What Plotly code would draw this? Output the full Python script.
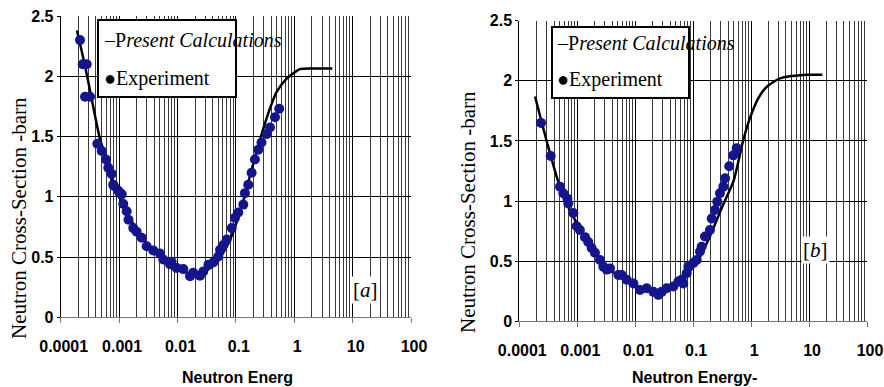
import plotly.graph_objects as go

# ---------------- data ----------------
# Panel a
calc_a_E = [1.9e-4, 2.6e-4, 3.4e-4, 4.7e-4, 6.3e-4, 7.9e-4, 1.26e-3, 2.0e-3, 3.2e-3, 5.0e-3,
            7.9e-3, 0.0126, 0.02, 0.032, 0.05, 0.079, 0.126, 0.2, 0.32, 0.5, 0.74, 1.0, 1.26, 2.0, 4.5]
calc_a_S = [2.38, 2.09, 1.81, 1.48, 1.28, 1.12, 0.90, 0.73, 0.59, 0.50,
            0.43, 0.38, 0.355, 0.39, 0.47, 0.64, 0.92, 1.28, 1.62, 1.87, 1.98, 2.03, 2.06, 2.065, 2.065]
exp_a_E = [2.14e-4, 2.38e-4, 2.79e-4, 2.61e-4, 3.18e-4, 4.24e-4, 5.04e-4, 5.97e-4, 6.53e-4, 7.46e-4,
           7.94e-4, 8.18e-4, 9.68e-4, 1.035e-3, 1.11e-3, 1.18e-3, 1.35e-3, 1.45e-3, 1.75e-3, 2.0e-3,
           2.44e-3, 2.97e-3, 3.85e-3, 5.0e-3, 5.71e-3, 7.45e-3, 7.94e-3, 9.68e-3, 0.0126, 0.0164,
           0.0186, 0.0243, 0.0277, 0.0339, 0.041, 0.050, 0.0537, 0.061, 0.0697, 0.0851,
           0.0966, 0.11, 0.134, 0.143, 0.163, 0.186, 0.212, 0.242, 0.275, 0.336,
           0.384, 0.468, 0.553]
exp_a_S = [2.30, 2.10, 2.10, 1.83, 1.83, 1.44, 1.38, 1.31, 1.24, 1.19,
           1.10, 1.09, 1.05, 1.03, 1.02, 0.94, 0.88, 0.81, 0.74, 0.71,
           0.66, 0.59, 0.555, 0.53, 0.48, 0.44, 0.46, 0.41, 0.40, 0.34,
           0.37, 0.345, 0.38, 0.435, 0.455, 0.505, 0.56, 0.60, 0.645, 0.74,
           0.825, 0.87, 0.935, 1.03, 1.10, 1.20, 1.31, 1.39, 1.45, 1.52,
           1.575, 1.66, 1.73]

# Panel b
calc_b_E = [1.87e-4, 3.16e-4, 5.0e-4, 7.9e-4, 1.26e-3, 2.0e-3, 3.16e-3, 5.0e-3, 7.9e-3, 0.0126,
            0.02, 0.0316, 0.05, 0.079, 0.126, 0.2, 0.316, 0.5, 0.735, 0.955, 1.35, 1.86, 3.16, 9.1, 17.0]
calc_b_S = [1.87, 1.45, 1.12, 0.90, 0.73, 0.58, 0.46, 0.38, 0.32, 0.28,
            0.25, 0.26, 0.30, 0.39, 0.52, 0.72, 0.95, 1.17, 1.51, 1.69, 1.86, 1.95, 2.02, 2.05, 2.05]
exp_b_E = [2.37e-4, 3.48e-4, 5.04e-4, 5.75e-4, 6.76e-4, 7.0e-4, 8.55e-4, 9.77e-4, 1.11e-3, 1.36e-3,
           1.55e-3, 1.77e-3, 2.02e-3, 2.47e-3, 2.82e-3, 3.22e-3, 3.67e-3, 5.13e-3, 5.83e-3, 7.13e-3,
           9.29e-3, 0.0121, 0.0158, 0.0206, 0.0251, 0.0286, 0.0349, 0.0455, 0.0555, 0.0634,
           0.0676, 0.0773, 0.0826, 0.1007, 0.115, 0.131, 0.14, 0.16, 0.195, 0.209,
           0.238, 0.261, 0.29, 0.332, 0.355, 0.42, 0.493, 0.564]
exp_b_S = [1.65, 1.375, 1.12, 1.065, 1.02, 0.98, 0.90, 0.79, 0.76, 0.70,
           0.66, 0.61, 0.57, 0.51, 0.455, 0.43, 0.44, 0.385, 0.385, 0.345,
           0.315, 0.26, 0.275, 0.245, 0.22, 0.245, 0.275, 0.29, 0.33, 0.345,
           0.315, 0.40, 0.455, 0.485, 0.51, 0.58, 0.62, 0.705, 0.76, 0.855,
           0.925, 0.995, 1.065, 1.12, 1.19, 1.29, 1.38, 1.44]

x_tickvals = [0.0001, 0.001, 0.01, 0.1, 1, 10, 100]
x_ticktext = ["0.0001", "0.001", "0.01", "0.1", "1", "10", "100"]
y_tickvals = [0, 0.5, 1, 1.5, 2, 2.5]
y_ticktext = ["0", "0.5", "1", "1.5", "2", "2.5"]

legend_calc = "Present Calculations"
legend_exp = "Experiment"

# ---------------- styles ----------------
W, H = 884, 387
SANS = "Liberation Sans, Arial, sans-serif"
SERIF = "Liberation Serif, Times New Roman, serif"
MARK = "#14148c"

fig = go.Figure()

fig.add_trace(go.Scatter(x=calc_a_E, y=calc_a_S, mode="lines", name=legend_calc,
                         line=dict(color="black", width=2.5, shape="spline", smoothing=0.6),
                         xaxis="x", yaxis="y"))
fig.add_trace(go.Scatter(x=exp_a_E, y=exp_a_S, mode="markers", name=legend_exp,
                         marker=dict(color=MARK, size=10), xaxis="x", yaxis="y"))
fig.add_trace(go.Scatter(x=calc_b_E, y=calc_b_S, mode="lines", name=legend_calc,
                         line=dict(color="black", width=2.5, shape="spline", smoothing=0.6),
                         xaxis="x2", yaxis="y2"))
fig.add_trace(go.Scatter(x=exp_b_E, y=exp_b_S, mode="markers", name=legend_exp,
                         marker=dict(color=MARK, size=10), xaxis="x2", yaxis="y2"))

def xax(domain, anchor):
    return dict(type="log", range=[-4, 2], domain=domain, anchor=anchor,
                tickvals=x_tickvals, ticktext=["<b>%s</b>" % t for t in x_ticktext],
                tickfont=dict(family=SANS, size=16, color="black"), tickangle=0,
                showgrid=True, gridcolor="black", gridwidth=1,
                minor=dict(dtick="D1", showgrid=True, gridcolor="#3a3a3a", gridwidth=1, ticks=""),
                showline=True, linecolor="#777", linewidth=1,
                ticks="outside", ticklen=5, tickcolor="#777",
                zeroline=False, ticklabelstandoff=9, ticklabelshift=3,
                automargin=False)

def yax(domain, anchor):
    return dict(range=[0, 2.5], domain=domain, anchor=anchor,
                tickvals=y_tickvals, ticktext=["<b>%s</b>" % t for t in y_ticktext],
                tickfont=dict(family=SANS, size=16, color="black"),
                showgrid=True, gridcolor="black", gridwidth=1,
                showline=True, linecolor="black", linewidth=1,
                ticks="outside", ticklen=3, tickcolor="black",
                zeroline=False, ticklabelstandoff=0, automargin=False)

# pixel geometry
ax_l, ax_r, ay_t, ay_b = 60.7, 411.0, 16.0, 317.3
bx_l, bx_r, by_t, by_b = 519.3, 867.0, 20.7, 321.3

fig.update_layout(
    width=W, height=H,
    margin=dict(l=0, r=0, t=0, b=0, autoexpand=False),
    paper_bgcolor="white", plot_bgcolor="white",
    xaxis=xax([ax_l / W, ax_r / W], "y"),
    yaxis=yax([1 - ay_b / H, 1 - ay_t / H], "x"),
    xaxis2=xax([bx_l / W, bx_r / W], "y2"),
    yaxis2=yax([1 - by_b / H, 1 - by_t / H], "x2"),
    showlegend=False,
)

def px(x):
    return x / W

def py(y):
    return 1 - y / H

shapes = []
ann = []

# legend boxes drawn in paper space
for (l, t, r, b, tx, y1, y2) in [(98, 20, 236, 97, 102, 40, 78),
                                  (552, 27, 689, 98, 555, 43, 80)]:
    shapes.append(dict(type="rect", xref="paper", yref="paper",
                       x0=px(l), x1=px(r), y0=py(b), y1=py(t),
                       line=dict(color="black", width=2), fillcolor="white", layer="above"))
    ann.append(dict(text="\u2013P<i>" + legend_calc[1:] + "</i>", xref="paper", yref="paper",
                    x=px(tx), y=py(y1), xanchor="left", yanchor="middle", showarrow=False,
                    font=dict(family=SERIF, size=20, color="black")))
    ann.append(dict(text="\u25cf" + legend_exp, xref="paper", yref="paper",
                    x=px(tx), y=py(y2), xanchor="left", yanchor="middle", showarrow=False,
                    font=dict(family=SERIF, size=20, color="black")))

# y titles
ann.append(dict(text="Neutron Cross-Section -barn", xref="paper", yref="paper",
                x=px(19), y=py(218), xanchor="center", yanchor="middle",
                textangle=-90, showarrow=False,
                font=dict(family=SERIF, size=21, color="black")))
ann.append(dict(text="Neutron Cross-Section -barn", xref="paper", yref="paper",
                x=px(468), y=py(212), xanchor="center", yanchor="middle",
                textangle=-90, showarrow=False,
                font=dict(family=SERIF, size=21, color="black")))
# x titles
ann.append(dict(text="<b>Neutron Energ</b>", xref="paper", yref="paper",
                x=px(237), y=py(377), xanchor="center", yanchor="middle", showarrow=False,
                font=dict(family=SANS, size=16, color="black")))
ann.append(dict(text="<b>Neutron Energy-</b>", xref="paper", yref="paper",
                x=px(694), y=py(377), xanchor="center", yanchor="middle", showarrow=False,
                font=dict(family=SANS, size=16, color="black")))
# panel labels
ann.append(dict(text="[<i>a</i>]", xref="paper", yref="paper",
                x=px(365), y=py(290), xanchor="center", yanchor="middle",
                showarrow=False, bgcolor="white",
                font=dict(family=SERIF, size=21, color="black")))
ann.append(dict(text="[<i>b</i>]", xref="paper", yref="paper",
                x=px(815), y=py(250), xanchor="center", yanchor="middle",
                showarrow=False, bgcolor="white",
                font=dict(family=SERIF, size=21, color="black")))

fig.update_layout(annotations=ann, shapes=shapes)

fig.write_html("out.html")
